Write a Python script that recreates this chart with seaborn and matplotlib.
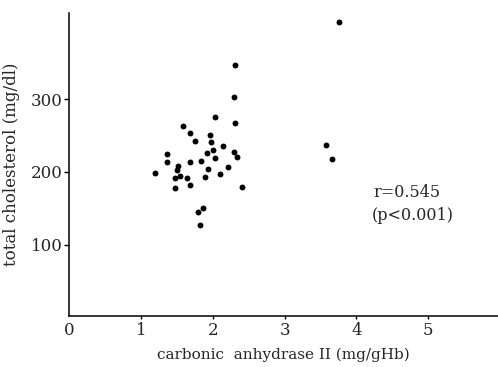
import matplotlib
matplotlib.use("Agg")
import matplotlib.pyplot as plt
import seaborn as sns
import pandas as pd

carbonic_anhydrase = [3.76, 2.31, 2.30, 2.03, 1.58, 2.31, 1.69, 1.96, 1.76, 1.97,
                      2.15, 2.01, 3.58, 3.66, 1.36, 1.92, 2.30, 2.34, 2.03, 1.36,
                      1.68, 1.84, 1.52, 1.50, 2.21, 1.93, 1.20, 2.10, 1.55, 1.48,
                      1.64, 1.89, 1.47, 1.68, 2.41, 1.86, 1.80, 1.82]
cholesterol = [405.6, 346.6, 303.2, 276.1, 263.7, 266.9, 253.7, 251.1, 242.4, 240.8,
               235.3, 230.4, 236.3, 217.0, 224.6, 225.3, 226.9, 220.1, 218.8, 213.6,
               213.9, 215.2, 208.1, 203.0, 206.5, 204.0, 198.9, 196.7, 194.1, 192.0,
               191.3, 192.3, 178.2, 181.3, 179.0, 149.7, 144.6, 126.8]
x_ticks = [1, 2, 3, 4, 5]
y_ticks = [100, 200, 300]
annotation = ["r=0.545", "(p<0.001)"]

df = pd.DataFrame({"ca": carbonic_anhydrase, "tc": cholesterol})

sns.set_style("ticks")
plt.rcParams['font.family'] = ['DejaVu Serif']

fig = plt.figure(figsize=(4.98, 3.67), dpi=100)
ax = fig.add_axes([69 / 498, 51.5 / 367, 1 - 69 / 498, (315.5 - 13.3) / 367])

sns.scatterplot(data=df, x="ca", y="tc", ax=ax, color="black", s=18,
                edgecolor="black", linewidth=0)

ax.set_xlim(0, 5.97)
ax.set_ylim(2.5, 418)
ax.set_xticks([0] + x_ticks)
ax.set_xticklabels(["0"] + [str(t) for t in x_ticks], fontsize=12)
ax.set_yticks(y_ticks)
ax.set_yticklabels([str(t) for t in y_ticks], fontsize=12)
ax.tick_params(axis="x", length=2, width=1, pad=3, color="black")
ax.tick_params(axis="y", length=3.5, width=1, pad=1, color="black")
ax.xaxis.get_major_ticks()[0].tick1line.set_visible(False)

sns.despine(ax=ax, top=True, right=True)
for sp in ["left", "bottom"]:
    ax.spines[sp].set_linewidth(1.1)
    ax.spines[sp].set_color("black")

ax.set_xlabel("carbonic  anhydrase II (mg/gHb)", fontsize=11, labelpad=6)
ax.set_ylabel("total cholesterol (mg/dl)", fontsize=12, labelpad=8)

ax.text(4.24, 171.7, annotation[0], fontsize=11.5, ha="left", va="center")
ax.text(4.21, 140.0, annotation[1], fontsize=11.5, ha="left", va="center")

fig.savefig("out.png", dpi=100)
